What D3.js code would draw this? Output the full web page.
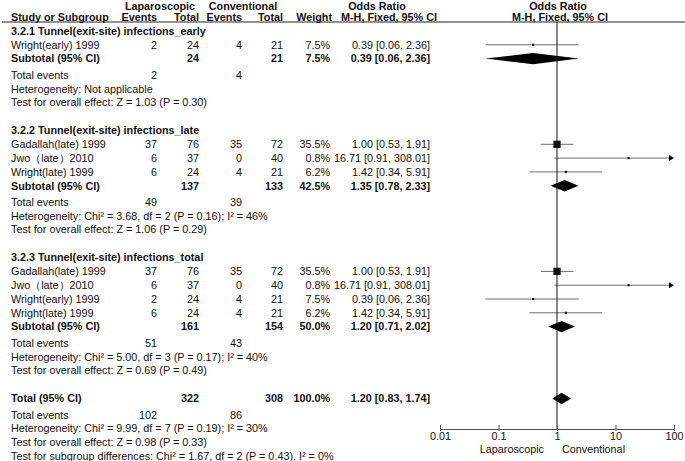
<!DOCTYPE html>
<html>
<head>
<meta charset="utf-8">
<script src="https://cdn.jsdelivr.net/npm/d3@7"></script>
<style>
  html, body { margin: 0; padding: 0; background: #fff; }
  svg { display: block; }
  text { font-family: "Liberation Sans", Arial, sans-serif; font-size: 10.8px; fill: #111; }
  .b { font-weight: bold; }
</style>
</head>
<body>
<svg id="chart" width="685" height="461"></svg>
<script>
// ---------------- data ----------------
const sectionTitles = [
  "3.2.1 Tunnel(exit-site) infections_early",
  "3.2.2 Tunnel(exit-site) infections_late",
  "3.2.3 Tunnel(exit-site) infections_total"
];
const studyNames = [
  ["Wright(early) 1999"],
  ["Gadallah(late) 1999", "Jwo（late）2010", "Wright(late) 1999"],
  ["Gadallah(late) 1999", "Jwo（late）2010", "Wright(early) 1999", "Wright(late) 1999"]
];
const lapEvents  = [[2], [37, 6, 6], [37, 6, 2, 6]];
const lapTotal   = [[24], [76, 37, 24], [76, 37, 24, 24]];
const convEvents = [[4], [35, 0, 4], [35, 0, 4, 4]];
const convTotal  = [[21], [72, 40, 21], [72, 40, 21, 21]];
const weights    = [[7.5], [35.5, 0.8, 6.2], [35.5, 0.8, 7.5, 6.2]];
const orEst      = [[0.39], [1.00, 16.71, 1.42], [1.00, 16.71, 0.39, 1.42]];
const orLow      = [[0.06], [0.53, 0.91, 0.34], [0.53, 0.91, 0.06, 0.34]];
const orHigh     = [[2.36], [1.91, 308.01, 5.91], [1.91, 308.01, 2.36, 5.91]];

const subLapTotal  = [24, 137, 161];
const subConvTotal = [21, 133, 154];
const subWeight    = ["7.5%", "42.5%", "50.0%"];
const subEst  = [0.39, 1.35, 1.20];
const subLow  = [0.06, 0.78, 0.71];
const subHigh = [2.36, 2.33, 2.02];
const subLapEvents  = [2, 49, 51];
const subConvEvents = [4, 39, 43];
const heterogeneity = [
  "Heterogeneity: Not applicable",
  "Heterogeneity: Chi² = 3.68, df = 2 (P = 0.16); I² = 46%",
  "Heterogeneity: Chi² = 5.00, df = 3 (P = 0.17); I² = 40%"
];
const overallEffect = [
  "Test for overall effect: Z = 1.03 (P = 0.30)",
  "Test for overall effect: Z = 1.06 (P = 0.29)",
  "Test for overall effect: Z = 0.69 (P = 0.49)"
];

const totalLap = 322, totalConv = 308, totalWeight = "100.0%";
const totalEst = 1.20, totalLow = 0.83, totalHigh = 1.74;
const totalLapEvents = 102, totalConvEvents = 86;
const totalHet = "Heterogeneity: Chi² = 9.99, df = 7 (P = 0.19); I² = 30%";
const totalEffect = "Test for overall effect: Z = 0.98 (P = 0.33)";
const subgroupDiff = "Test for subgroup differences: Chi² = 1.67, df = 2 (P = 0.43), I² = 0%";

const axisTicks = [0.01, 0.1, 1, 10, 100];
const axisTickLabels = ["0.01", "0.1", "1", "10", "100"];
const favourLeft = "Laparoscopic", favourRight = "Conventional";

// ---------------- layout ----------------
const svg = d3.select("#chart");
const fmt = d3.format(".2f");
const ciText = (e, l, h) => `${fmt(e)} [${fmt(l)}, ${fmt(h)}]`;

const X = { name: 11, lapE: 157, lapT: 199, conE: 242, conT: 283, w: 330, or: 430 };
const x = d3.scaleLog().domain([0.01, 100]).range([440, 674]);
const maxW = d3.max(weights.flat());
const box = d3.scaleLinear().domain([0, maxW]).range([0, 7.3]);

const ROW = 13.8;
const SECTION_GAP = 28;
const headerLineY = 22;

function txt(xp, yp, s, opts = {}) {
  const t = svg.append("text").attr("x", xp).attr("y", yp).attr("dy", "0.36em").text(s);
  if (opts.anchor) t.attr("text-anchor", opts.anchor);
  if (opts.bold) t.attr("class", "b");
  return t;
}

// header
txt(160, 6, "Laparoscopic", { anchor: "middle", bold: true });
txt(243, 6, "Conventional", { anchor: "middle", bold: true });
txt(377, 6, "Odds Ratio", { anchor: "middle", bold: true });
txt(558, 6, "Odds Ratio", { anchor: "middle", bold: true });
txt(X.name, 17, "Study or Subgroup", { bold: true });
txt(X.lapE, 17, "Events", { anchor: "end", bold: true });
txt(X.lapT, 17, "Total", { anchor: "end", bold: true });
txt(X.conE, 17, "Events", { anchor: "end", bold: true });
txt(X.conT, 17, "Total", { anchor: "end", bold: true });
txt(X.w + 2, 17, "Weight", { anchor: "end", bold: true });
txt(389, 17, "M-H, Fixed, 95% CI", { anchor: "middle", bold: true });
txt(560, 17, "M-H, Fixed, 95% CI", { anchor: "middle", bold: true });
svg.append("line").attr("x1", 2).attr("x2", 685).attr("y1", headerLineY).attr("y2", headerLineY)
  .attr("stroke", "#222").attr("stroke-width", 1);

const plotG = svg.append("g");

function diamond(yc, e, l, h) {
  const hh = 5.7;
  plotG.append("path")
    .attr("d", `M${x(l)},${yc} L${x(e)},${yc - hh} L${x(h)},${yc} L${x(e)},${yc + hh} Z`)
    .attr("fill", "#000");
}

let y = 31;
sectionTitles.forEach((title, s) => {
  txt(X.name, y, title, { bold: true });
  y += ROW;
  studyNames[s].forEach((nm, i) => {
    txt(X.name, y, nm);
    txt(X.lapE, y, lapEvents[s][i], { anchor: "end" });
    txt(X.lapT, y, lapTotal[s][i], { anchor: "end" });
    txt(X.conE, y, convEvents[s][i], { anchor: "end" });
    txt(X.conT, y, convTotal[s][i], { anchor: "end" });
    txt(X.w, y, weights[s][i].toFixed(1) + "%", { anchor: "end" });
    txt(X.or, y, ciText(orEst[s][i], orLow[s][i], orHigh[s][i]), { anchor: "end" });
    // CI line
    const lo = Math.max(orLow[s][i], 0.01), hi = Math.min(orHigh[s][i], 100);
    const x2 = orHigh[s][i] > 100 ? x(100) - 4 : x(hi);
    plotG.append("line").attr("x1", x(lo)).attr("x2", x2).attr("y1", y).attr("y2", y)
      .attr("stroke", "#6e6e6e").attr("stroke-width", 1);
    if (orHigh[s][i] > 100) {
      plotG.append("path")
        .attr("d", `M${x(100) - 5},${y - 3} L${x(100)},${y} L${x(100) - 5},${y + 3} Z`)
        .attr("fill", "#000");
    }
    const sz = Math.max(box(weights[s][i]), 2.2);
    plotG.append("rect").attr("x", x(orEst[s][i]) - sz / 2).attr("y", y - sz / 2)
      .attr("width", sz).attr("height", sz).attr("fill", "#111");
    y += ROW;
  });
  txt(X.name, y, "Subtotal (95% CI)", { bold: true });
  txt(X.lapT, y, subLapTotal[s], { anchor: "end", bold: true });
  txt(X.conT, y, subConvTotal[s], { anchor: "end", bold: true });
  txt(X.w, y, subWeight[s], { anchor: "end", bold: true });
  txt(X.or, y, ciText(subEst[s], subLow[s], subHigh[s]), { anchor: "end", bold: true });
  diamond(y, subEst[s], subLow[s], subHigh[s]);
  y += ROW + 2.5;
  txt(X.name, y, "Total events");
  txt(X.lapE, y, subLapEvents[s], { anchor: "end" });
  txt(X.conE, y, subConvEvents[s], { anchor: "end" });
  y += ROW;
  txt(X.name, y, heterogeneity[s]);
  y += ROW;
  txt(X.name, y, overallEffect[s]);
  y += SECTION_GAP;
});

// overall
txt(X.name, y, "Total (95% CI)", { bold: true });
txt(X.lapT, y, totalLap, { anchor: "end", bold: true });
txt(X.conT, y, totalConv, { anchor: "end", bold: true });
txt(X.w, y, totalWeight, { anchor: "end", bold: true });
txt(X.or, y, ciText(totalEst, totalLow, totalHigh), { anchor: "end", bold: true });
diamond(y, totalEst, totalLow, totalHigh);
y += ROW + 2.5;
txt(X.name, y, "Total events");
txt(X.lapE, y, totalLapEvents, { anchor: "end" });
txt(X.conE, y, totalConvEvents, { anchor: "end" });
y += ROW;
txt(X.name, y, totalHet);
y += ROW;
txt(X.name, y, totalEffect);
y += ROW;
txt(X.name, y, subgroupDiff);

// axis
const axisY = 429;
plotG.append("line").attr("x1", x(1)).attr("x2", x(1)).attr("y1", headerLineY).attr("y2", axisY)
  .attr("stroke", "#111").attr("stroke-width", 1);
const axis = d3.axisBottom(x).tickValues(axisTicks)
  .tickFormat((d, i) => axisTickLabels[i]).tickSizeInner(-5).tickSizeOuter(0).tickPadding(3);
const ag = svg.append("g").attr("transform", `translate(0,${axisY})`).call(axis);
ag.select(".domain").attr("stroke", "#555");
ag.selectAll(".tick line").attr("stroke", "#555").attr("y2", -4).attr("y1", 2);
ag.selectAll(".tick text").attr("font-family", "Liberation Sans, Arial, sans-serif")
  .attr("font-size", "10.8px").attr("fill", "#111");
txt(x(1) - 13, axisY + 20, favourLeft, { anchor: "end" });
txt(x(1) + 5, axisY + 20, favourRight);
</script>
</body>
</html>
